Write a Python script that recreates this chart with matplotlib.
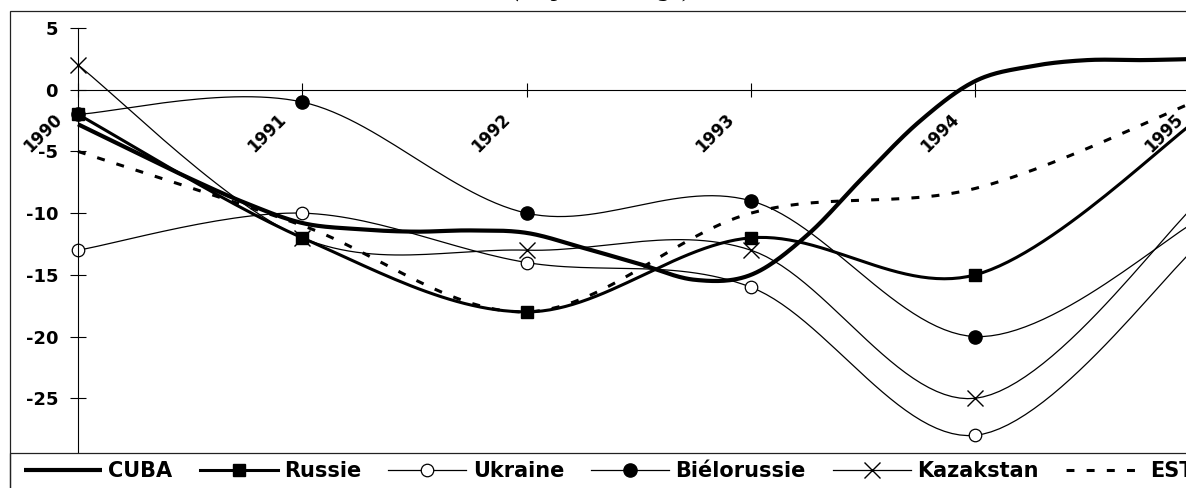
import numpy as np
import matplotlib
matplotlib.use("Agg")
import matplotlib.pyplot as plt
import matplotlib.transforms as mtransforms
from matplotlib.patches import Rectangle

# ---------------- data ----------------
years = [1990, 1991, 1992, 1993, 1994, 1995]
year_labels = ["1990", "1991", "1992", "1993", "1994", "1995"]

russie = [-2, -12, -18, -12, -15, -2.3]
ukraine = [-13, -10, -14, -16, -28, -12.5]
bielorussie = [-2, -1, -10, -9, -20, -10.5]
kazakstan = [2, -12, -13, -13, -25, -9]
est = [-5, -11, -18, -10, -8, -0.8]

# CUBA read at quarterly positions
cuba_x = [1990.00, 1990.25, 1990.50, 1990.75, 1991.00, 1991.25, 1991.50,
          1991.75, 1992.00, 1992.25, 1992.50, 1992.75, 1993.00, 1993.25,
          1993.50, 1993.75, 1994.00, 1994.25, 1994.50, 1994.75, 1995.00]
cuba = [-2.8, -5.0, -7.2, -9.2, -10.8, -11.3, -11.5,
        -11.4, -11.6, -12.8, -14.1, -15.4, -15.0, -11.8,
        -7.1, -2.6, 0.7, 1.9, 2.4, 2.4, 2.5]

y_ticks = [5, 0, -5, -10, -15, -20, -25, -30]
y_tick_labels = ["5", "0", "-5", "-10", "-15", "-20", "-25", "-30"]

title_text = "(en pourcentage)"

# ---------------- helpers ----------------
NSEG = 30


def smooth(x, y, n=NSEG):
    """Excel-like smoothed line (Catmull-Rom style Bezier)."""
    P = np.column_stack([np.asarray(x, float), np.asarray(y, float)])
    m = len(P)
    ext = np.vstack([P[0], P, P[-1]])
    out = [P[0]]
    t = np.linspace(0, 1, n)[1:, None]
    for i in range(m - 1):
        pm, p0, p1, pp = ext[i], ext[i + 1], ext[i + 2], ext[i + 3]
        b1 = p0 + (p1 - pm) / 6.0
        b2 = p1 - (pp - p0) / 6.0
        seg = ((1 - t) ** 3) * p0 + 3 * ((1 - t) ** 2) * t * b1 \
            + 3 * (1 - t) * t ** 2 * b2 + t ** 3 * p1
        out.extend(seg)
    out = np.array(out)
    marks = [k * (n - 1) for k in range(m)]
    return out[:, 0], out[:, 1], marks


# ---------------- figure ----------------
W, H = 1186, 488
DPI = 100
plt.rcParams["font.family"] = ["DejaVu Sans"]
fig = plt.figure(figsize=(W / DPI, H / DPI), dpi=DPI)

px_per_year = 224.3
x_left_px = 78
top_px, bottom_px = 28, 460
ax_w_px = 1161.5
ax = fig.add_axes([x_left_px / W, 1 - bottom_px / H,
                   ax_w_px / W, (bottom_px - top_px) / H])
ax.set_xlim(1990, 1990 + ax_w_px / px_per_year)
ax.set_ylim(-30, 5)
ax.patch.set_alpha(0)

# series
sx, sy, mk = smooth(cuba_x, cuba)
ax.plot(sx, sy, color="black", lw=3.0, label="CUBA", clip_on=False,
        solid_capstyle="butt")

sx, sy, mk = smooth(years, russie)
ax.plot(sx, sy, color="black", lw=2.2, marker="s", ms=9.3, markevery=mk,
        label="Russie", clip_on=False)

sx, sy, mk = smooth(years, ukraine)
ax.plot(sx, sy, color="black", lw=0.9, marker="o", ms=9, mfc="white",
        mec="black", mew=0.9, markevery=mk, label="Ukraine", clip_on=False)

sx, sy, mk = smooth(years, bielorussie)
ax.plot(sx, sy, color="black", lw=0.9, marker="o", ms=9.5, markevery=mk,
        label="Biélorussie", clip_on=False)

sx, sy, mk = smooth(years, kazakstan)
ax.plot(sx, sy, color="black", lw=0.9, marker="x", ms=11, mew=1.0,
        markevery=mk, label="Kazakstan", clip_on=False)

sx, sy, mk = smooth(years, est)
ax.plot(sx, sy, color="black", lw=2.2, ls=(0, (2.6, 4.0)), label="EST",
        clip_on=False, dash_capstyle="butt")

# axes styling
for s in ("top", "right"):
    ax.spines[s].set_visible(False)
ax.spines["bottom"].set_position(("data", 0))
ax.spines["left"].set_linewidth(0.8)
ax.spines["bottom"].set_linewidth(0.8)
ax.spines["left"].set_bounds(-30, 5)

ax.set_yticks(y_ticks)
ax.set_yticklabels(y_tick_labels, fontsize=13, fontweight="bold")
ax.tick_params(axis="y", direction="inout", length=11.5, width=0.8, pad=8.6)

ax.set_xticks(years)
ax.set_xticklabels(year_labels, fontsize=12, fontweight="bold")
ax.tick_params(axis="x", direction="inout", length=9.4, width=0.8, pad=15.0)
offset = mtransforms.ScaledTranslation(-19 / DPI, 0, fig.dpi_scale_trans)
for lab in ax.get_xticklabels():
    lab.set_rotation(45)
    lab.set_ha("right")
    lab.set_va("center")
    lab.set_rotation_mode("anchor")
    lab.set_transform(lab.get_transform() + offset)

# chart frame (left and top edges visible)
frame = Rectangle((10 / W, -0.5), 2.0, 1.5 - 11 / H, transform=fig.transFigure,
                  fill=False, edgecolor="#222222", lw=0.9, zorder=6)
fig.add_artist(frame)

# legend box
legbox = Rectangle((10 / W, -0.5), 2.0, 0.5 + (488 - 453) / H,
                   transform=fig.transFigure, facecolor="white",
                   edgecolor="#222222", lw=0.9, zorder=4)
fig.add_artist(legbox)

handles, labels = ax.get_legend_handles_labels()
leg = fig.legend(handles, labels, loc="center left",
                 bbox_to_anchor=(24 / W, 1 - 471 / H),
                 bbox_transform=fig.transFigure, ncol=6, frameon=False,
                 borderpad=0, borderaxespad=0, handlelength=3.75,
                 handletextpad=0.3, columnspacing=1.3, numpoints=1,
                 prop={"weight": "bold", "size": 15})
leg.set_zorder(5)

# title (cut at the top in the reference)
fig.text(602 / W, 1 + 3.5 / H, title_text, ha="center", va="baseline",
         fontsize=19, style="italic", family="Liberation Serif")

fig.savefig("out.png", dpi=DPI)
